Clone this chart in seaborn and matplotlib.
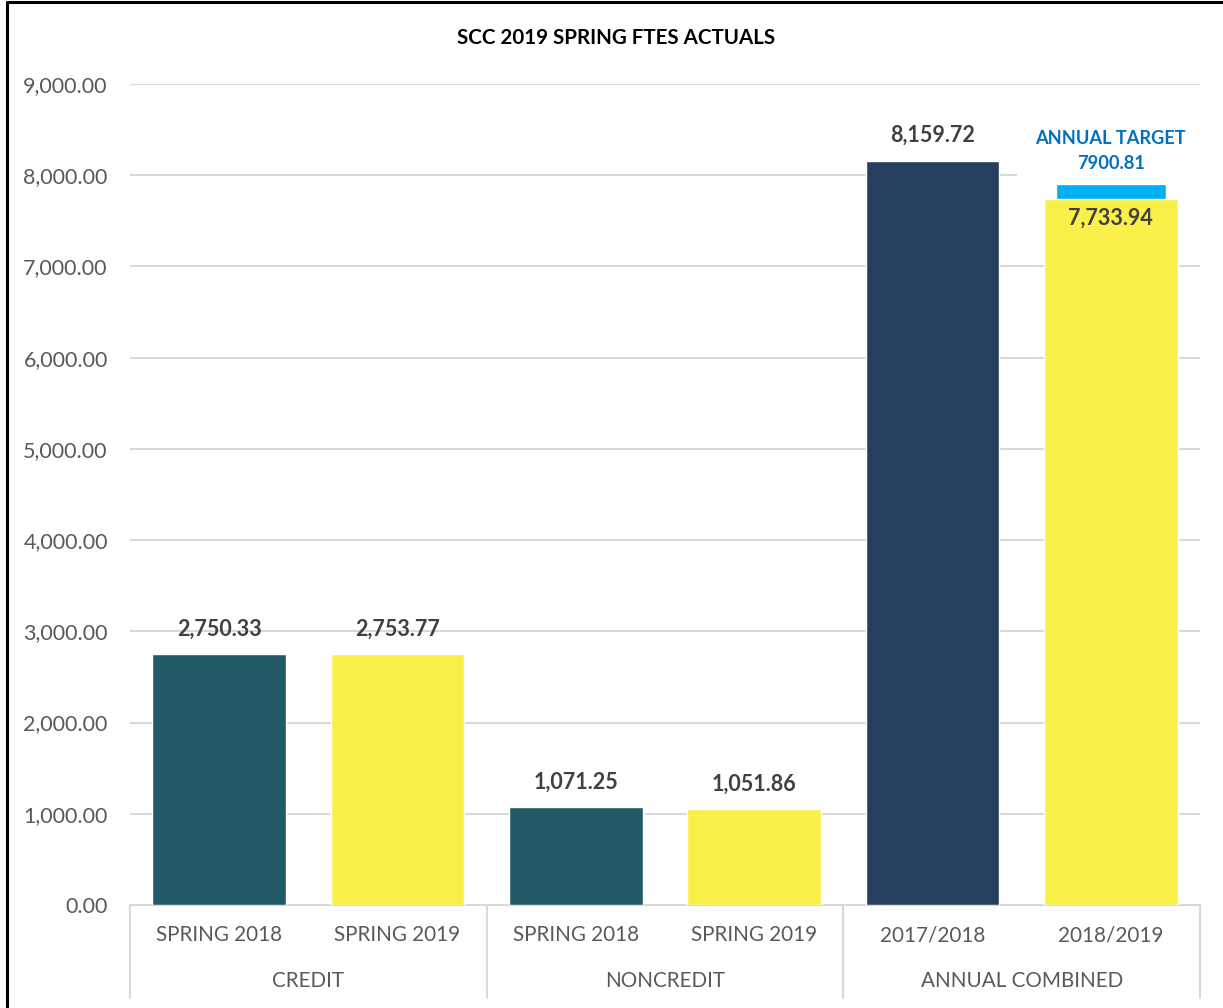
import matplotlib
matplotlib.use("Agg")
import matplotlib.pyplot as plt
import matplotlib.transforms as mtransforms
from matplotlib.lines import Line2D
import seaborn as sns
import pandas as pd

# ---- data ----
groups = ["CREDIT", "CREDIT", "NONCREDIT", "NONCREDIT", "ANNUAL COMBINED", "ANNUAL COMBINED"]
tick_labels = ["SPRING 2018", "SPRING 2019", "SPRING 2018", "SPRING 2019", "2017/2018", "2018/2019"]
values = [2750.33, 2753.77, 1071.25, 1051.86, 8159.72, 7733.94]
bar_colors = ["#225A68", "#F9F04A", "#225A68", "#F9F04A", "#263F5E", "#F9F04A"]
target_value = 7900.81
target_label = "ANNUAL TARGET"
title = "SCC 2019 SPRING FTES ACTUALS"

sns.set_theme(style="white")
plt.rcParams["font.family"] = ["Lato", "DejaVu Sans"]

keys = [f"{g}|{t}" for g, t in zip(groups, tick_labels)]
df = pd.DataFrame({"key": keys, "value": values})

fig = plt.figure(figsize=(12.23, 10.08), dpi=100)
renderer = fig.canvas.get_renderer()


def fit_size(text, width_px, weight="normal"):
    """Font size (pt) at which `text` renders about width_px wide."""
    t = fig.text(0, 0, text, fontsize=20, fontweight=weight)
    w = t.get_window_extent(renderer).width
    t.remove()
    return 20 * width_px / w


fs_tick = fit_size("SPRING 2018", 126)
fs_ytick = fit_size("9,000.00", 85)
fs_data = fit_size("7,733.94", 85, "bold")
fs_title = fit_size(title, 319, "bold")
fs_target = fit_size(target_label, 151, "bold")

ax = fig.add_axes([130 / 1223, 1 - 905 / 1008, 1070 / 1223, (905 - 84) / 1008])

# target bar (behind the yellow bar)
target_pos = len(keys) - 1
ax.bar(target_pos, target_value, width=0.62, color="#00B0F0", zorder=2.5)

sns.barplot(data=df, x="key", y="value", hue="key", order=keys, hue_order=keys,
            palette=bar_colors, width=0.75, legend=False, ax=ax, zorder=3,
            saturation=1)

ax.set_xlim(-0.5, len(keys) - 0.5)
ax.set_ylim(0, 9000)
ax.set_yticks(range(0, 9001, 1000))
ax.set_yticklabels([f"{v:,.2f}" for v in range(0, 9001, 1000)], fontsize=fs_ytick, color="#595959")
ax.yaxis.grid(True, color="#D9D9D9", linewidth=1.5, zorder=0)
ax.set_axisbelow(True)
ax.tick_params(axis="y", length=0, pad=16)
ax.set_xlabel("")
ax.set_ylabel("")
for s in ["top", "right", "left"]:
    ax.spines[s].set_visible(False)
ax.spines["bottom"].set_color("#D9D9D9")
ax.spines["bottom"].set_linewidth(1.5)

# x tick labels
ax.set_xticks(range(len(keys)))
ax.set_xticklabels([])
ax.tick_params(axis="x", length=0)
trans = mtransforms.blended_transform_factory(ax.transData, ax.transAxes)
off_px = lambda px: mtransforms.offset_copy(trans, fig=fig, y=-px * 72 / 100, units="points")
for i, t in enumerate(tick_labels):
    ax.text(i, 0, t, transform=off_px(30), ha="center", va="center", fontsize=fs_tick,
            color="#595959")

# group labels and separators
uniq = []
for g in groups:
    if g not in uniq:
        uniq.append(g)
for g in uniq:
    idx = [i for i, gg in enumerate(groups) if gg == g]
    ax.text((idx[0] + idx[-1]) / 2, 0, g, transform=off_px(76), ha="center", va="center",
            fontsize=fs_tick, color="#595959")
bounds = [-0.5]
for g in uniq:
    idx = [i for i, gg in enumerate(groups) if gg == g]
    bounds.append(idx[-1] + 0.5)
sep_h = 93 / (905 - 84)
for b in bounds:
    ax.plot([b, b], [0, -sep_h], transform=trans, color="#D9D9D9", linewidth=1.5, clip_on=False)

# data labels
for i, v in enumerate(values):
    if i == target_pos:
        tr = mtransforms.offset_copy(ax.transData, fig=fig, y=-19 * 72 / 100, units="points")
    else:
        tr = mtransforms.offset_copy(ax.transData, fig=fig, y=25 * 72 / 100, units="points")
    ax.text(i, v, f"{v:,.2f}", transform=tr, ha="center", va="center", fontsize=fs_data,
            fontweight="bold", color="#404040", zorder=5)

# target label (white box behind the value hides the gridline, sits under the bars)
tr1 = mtransforms.offset_copy(ax.transData, fig=fig, y=46 * 72 / 100, units="points")
ax.text(target_pos, target_value, target_label, transform=tr1,
        ha="center", va="center", fontsize=fs_target, fontweight="bold",
        color="#0070C0", zorder=5)
tr2 = mtransforms.offset_copy(ax.transData, fig=fig, y=21 * 72 / 100, units="points")
ax.text(target_pos, target_value, f"{target_value}", transform=tr2,
        ha="center", va="center", fontsize=fs_target, fontweight="bold",
        color="#0070C0", zorder=2.2,
        bbox=dict(boxstyle="square,pad=3.3", facecolor="white", edgecolor="none"))

# title
fig.text(0.5035, 1 - 38 / 1008, title, ha="center", va="center", fontsize=fs_title,
         fontweight="bold", color="#000000")

# black border (top and left)
fig.add_artist(Line2D([7 / 1223, 7 / 1223], [0, 1 - 2 / 1008], color="black", linewidth=2.2,
                      transform=fig.transFigure))
fig.add_artist(Line2D([7 / 1223, 1], [1 - 2 / 1008, 1 - 2 / 1008], color="black", linewidth=2.2,
                      transform=fig.transFigure))

fig.savefig("out.png", dpi=100, facecolor="white")
